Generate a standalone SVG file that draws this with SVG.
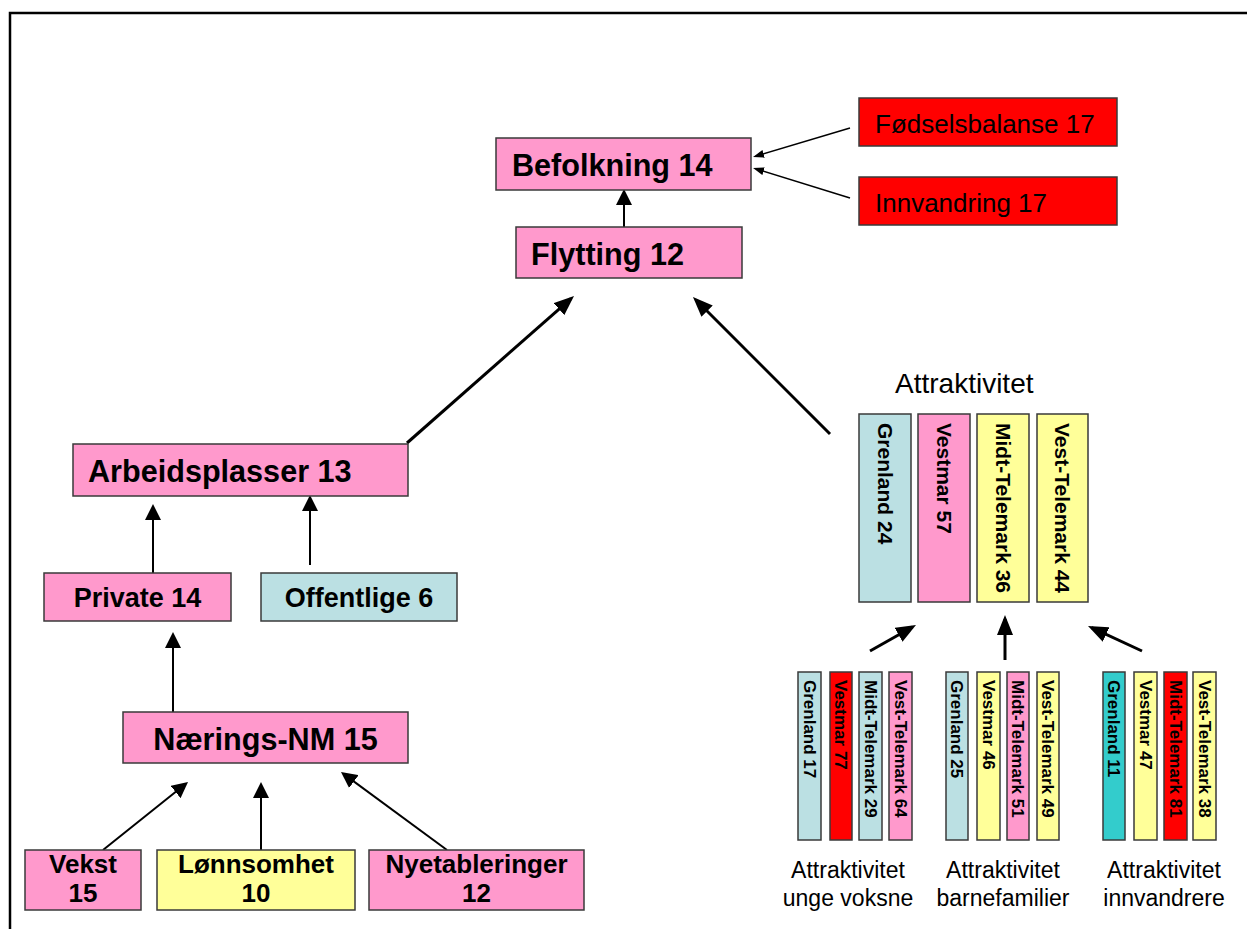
<svg xmlns="http://www.w3.org/2000/svg" width="1247" height="929" viewBox="0 0 1247 929">
<style>
.box{stroke:#3a3a3a;stroke-width:1.5}
.pink{fill:#ff99cc}.blue{fill:#bbe0e3}.yel{fill:#ffff99}.red{fill:#ff0000}.turq{fill:#33cccc}
.bt{font-family:"Liberation Sans",Arial,sans-serif;font-weight:bold;fill:#000}
.big{font-size:30.6px}
.mid{font-size:27px}
.two{font-size:26px}
.reg{font-family:"Liberation Sans",Arial,sans-serif;fill:#000}
.vt{font-family:"Liberation Sans",Arial,sans-serif;font-weight:bold;font-size:21px;fill:#000}
.vs{font-family:"Liberation Sans",Arial,sans-serif;font-weight:bold;font-size:17px;fill:#000}
.c{text-anchor:middle}
.thin{stroke:#000;stroke-width:2;fill:none;marker-end:url(#ah)}
.thick{stroke:#000;stroke-width:3;fill:none;marker-end:url(#ahb)}
.hair{stroke:#000;stroke-width:1.5;fill:none;marker-end:url(#ahs)}
</style>
<defs>
<marker id="ah" markerUnits="userSpaceOnUse" viewBox="0 0 16 16" markerWidth="16" markerHeight="16" refX="12" refY="8" orient="auto"><path d="M0,0L16,8L0,16z" fill="#000"/></marker>
<marker id="ahb" markerUnits="userSpaceOnUse" viewBox="0 0 20 16" markerWidth="20" markerHeight="16" refX="16" refY="8" orient="auto"><path d="M0,0L20,8L0,16z" fill="#000"/></marker>
<marker id="ahs" markerUnits="userSpaceOnUse" viewBox="0 0 11 8" markerWidth="11" markerHeight="8" refX="8" refY="4" orient="auto"><path d="M0,0L11,4L0,8z" fill="#000"/></marker>
</defs>
<rect x="0" y="0" width="1247" height="929" fill="#fff"/>
<rect x="10" y="13" width="1260" height="940" fill="none" stroke="#000" stroke-width="2.5"/>

<g id="connectors">
<line class="thin" x1="624" y1="227" x2="624" y2="193"/>
<line class="hair" x1="850" y1="128" x2="755.9" y2="156.1"/>
<line class="hair" x1="850" y1="198" x2="755.9" y2="168.9"/>
<line class="thick" x1="407" y1="443" x2="571" y2="298.6"/>
<line class="thick" x1="830" y1="434" x2="695.8" y2="299.8"/>
<line class="thin" x1="153" y1="573" x2="153" y2="508"/>
<line class="thin" x1="310" y1="565" x2="310" y2="499"/>
<line class="thin" x1="173" y1="712" x2="173" y2="636"/>
<line class="thin" x1="103" y1="850" x2="184.9" y2="784.5"/>
<line class="thin" x1="261" y1="850" x2="261" y2="786"/>
<line class="thin" x1="447" y1="850" x2="344.2" y2="774.4"/>
<line class="thick" x1="870" y1="651" x2="912.5" y2="627"/>
<line class="thick" x1="1005" y1="660" x2="1005" y2="619"/>
<line class="thick" x1="1142" y1="651" x2="1091.6" y2="627.7"/>
</g>

<g id="befolkning"><rect class="box pink" x="496" y="138" width="255" height="52"/><text class="bt big" x="512" y="176">Befolkning 14</text></g>
<g id="fodsel"><rect class="box red" x="859" y="98" width="258" height="48"/><text class="reg" font-size="26" x="875" y="133">Fødselsbalanse 17</text></g>
<g id="innvandring"><rect class="box red" x="859" y="177" width="258" height="48"/><text class="reg" font-size="26" x="875" y="212">Innvandring 17</text></g>
<g id="flytting"><rect class="box pink" x="516" y="227" width="226" height="51"/><text class="bt big" x="531" y="265">Flytting 12</text></g>
<g id="arbeidsplasser"><rect class="box pink" x="73" y="444" width="335" height="52"/><text class="bt big" x="88" y="482">Arbeidsplasser 13</text></g>
<g id="private"><rect class="box pink" x="44" y="573" width="187" height="48"/><text class="bt mid c" x="137.5" y="607">Private 14</text></g>
<g id="offentlige"><rect class="box blue" x="261" y="573" width="196" height="48"/><text class="bt mid c" x="359" y="607">Offentlige 6</text></g>
<g id="naerings"><rect class="box pink" x="123" y="712" width="285" height="51"/><text class="bt big c" x="265.5" y="750">Nærings-NM 15</text></g>
<g id="vekst"><rect class="box pink" x="25" y="850" width="116" height="60"/><text class="bt two c" x="83" y="873">Vekst</text><text class="bt two c" x="83" y="902">15</text></g>
<g id="lonnsomhet"><rect class="box yel" x="157" y="850" width="198" height="60"/><text class="bt two c" x="256" y="873">Lønnsomhet</text><text class="bt two c" x="256" y="902">10</text></g>
<g id="nyetableringer"><rect class="box pink" x="369" y="850" width="215" height="60"/><text class="bt two c" x="476.5" y="873">Nyetableringer</text><text class="bt two c" x="476.5" y="902">12</text></g>

<g id="attraktivitet">
<text class="reg" font-size="28" x="895" y="393">Attraktivitet</text>
<rect class="box blue" x="859" y="414" width="52" height="188"/><text class="vt" transform="translate(877.5,423) rotate(90)">Grenland 24</text>
<rect class="box pink" x="918" y="414" width="52" height="188"/><text class="vt" transform="translate(936.5,423) rotate(90)">Vestmar 57</text>
<rect class="box yel" x="977" y="414" width="52" height="188"/><text class="vt" transform="translate(995.5,423) rotate(90)">Midt-Telemark 36</text>
<rect class="box yel" x="1037" y="414" width="51" height="188"/><text class="vt" transform="translate(1055,423) rotate(90)">Vest-Telemark 44</text>
</g>

<g id="unge-voksne">
<rect class="box blue" x="798" y="672" width="23" height="168"/><text class="vs" transform="translate(803.5,680) rotate(90)">Grenland 17</text>
<rect class="box red" x="830" y="672" width="22" height="168"/><text class="vs" transform="translate(835,680) rotate(90)">Vestmar 77</text>
<rect class="box blue" x="859" y="672" width="23" height="168"/><text class="vs" transform="translate(864.5,680) rotate(90)">Midt-Telemark 29</text>
<rect class="box pink" x="889" y="672" width="23" height="168"/><text class="vs" transform="translate(894.5,680) rotate(90)">Vest-Telemark 64</text>
<text class="reg c" font-size="23" x="848" y="878">Attraktivitet</text>
<text class="reg c" font-size="23" x="848" y="906">unge voksne</text>
</g>

<g id="barnefamilier">
<rect class="box blue" x="946" y="672" width="22" height="168"/><text class="vs" transform="translate(951,680) rotate(90)">Grenland 25</text>
<rect class="box yel" x="977" y="672" width="23" height="168"/><text class="vs" transform="translate(982.5,680) rotate(90)">Vestmar 46</text>
<rect class="box pink" x="1007" y="672" width="22" height="168"/><text class="vs" transform="translate(1012,680) rotate(90)">Midt-Telemark 51</text>
<rect class="box yel" x="1037" y="672" width="22" height="168"/><text class="vs" transform="translate(1042,680) rotate(90)">Vest-Telemark 49</text>
<text class="reg c" font-size="23" x="1003" y="878">Attraktivitet</text>
<text class="reg c" font-size="23" x="1003" y="906">barnefamilier</text>
</g>

<g id="innvandrere">
<rect class="box turq" x="1103" y="672" width="22" height="168"/><text class="vs" transform="translate(1108,680) rotate(90)">Grenland 11</text>
<rect class="box yel" x="1134" y="672" width="23" height="168"/><text class="vs" transform="translate(1139.5,680) rotate(90)">Vestmar 47</text>
<rect class="box red" x="1164" y="672" width="23" height="168"/><text class="vs" transform="translate(1169.5,680) rotate(90)">Midt-Telemark 81</text>
<rect class="box yel" x="1193" y="672" width="23" height="168"/><text class="vs" transform="translate(1198.5,680) rotate(90)">Vest-Telemark 38</text>
<text class="reg c" font-size="23" x="1164" y="878">Attraktivitet</text>
<text class="reg c" font-size="23" x="1164" y="906">innvandrere</text>
</g>
</svg>
